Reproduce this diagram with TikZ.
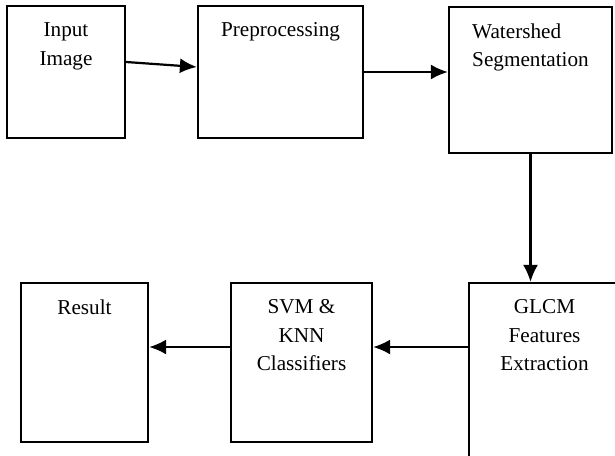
\documentclass[tikz,border=0pt]{standalone}
\usepackage{fontspec}
\setmainfont{Liberation Serif}
\usetikzlibrary{arrows.meta}

\begin{document}
\begin{tikzpicture}[node distance=125pt,>={Latex[length=8.5pt,width=7.5pt]},line width=1.1pt,
  box/.style={draw,rectangle,inner sep=0pt},
  txt/.style={anchor=north,yshift=-8.3pt,inner sep=0pt,align=center,font=\fontsize{10.6}{14.3}\selectfont}]
\useasboundingbox (-33pt,36pt) rectangle (274.5pt,-191.5pt);
\node[box,minimum width=59pt,minimum height=66pt] (inp) {};
\node[box,minimum width=82.5pt,minimum height=66pt,right of = inp,xshift=-17.75pt] (pre) {};
\node[box,minimum width=81.5pt,minimum height=73pt,right of = pre,yshift=-4pt] (wat) {};
\node[box,minimum width=75.5pt,minimum height=93.5pt,below of = wat,xshift=7pt,yshift=-23.25pt] (glcm) {};
\node[box,minimum width=70.5pt,minimum height=79.5pt,left of = glcm,xshift=3.5pt,yshift=7pt] (svm) {};
\node[box,minimum width=63.5pt,minimum height=79.5pt,left of = svm,xshift=16.5pt] (res) {};

\node[txt] (inpt) at (inp.north) {Input\\Image};
\node[txt] (pret) at (pre.north) {Preprocessing};
\node[txt,align=left] (watt) at (wat.north) {Watershed\\Segmentation};
\node[txt] (glcmt) at (glcm.north) {GLCM\\Features\\Extraction};
\node[txt] (svmt) at (svm.north) {SVM \&\\KNN\\Classifiers};
\node[txt] (rest) at (res.north) {Result};

\draw [->] ([yshift=5pt]inp.east) -- ([yshift=2.5pt]pre.west);
\draw [->] (pre.east) -- (pre.east -| wat.west);
\draw [->] (wat.south) -- (wat.south |- glcm.north);
\draw [->] ([yshift=7.75pt]svm.east -| glcm.west) -- ([yshift=7.75pt]svm.east);
\draw [->] ([yshift=7.75pt]svm.west) -- ([yshift=7.75pt]res.east);
    %
\end{tikzpicture}
\end{document}
